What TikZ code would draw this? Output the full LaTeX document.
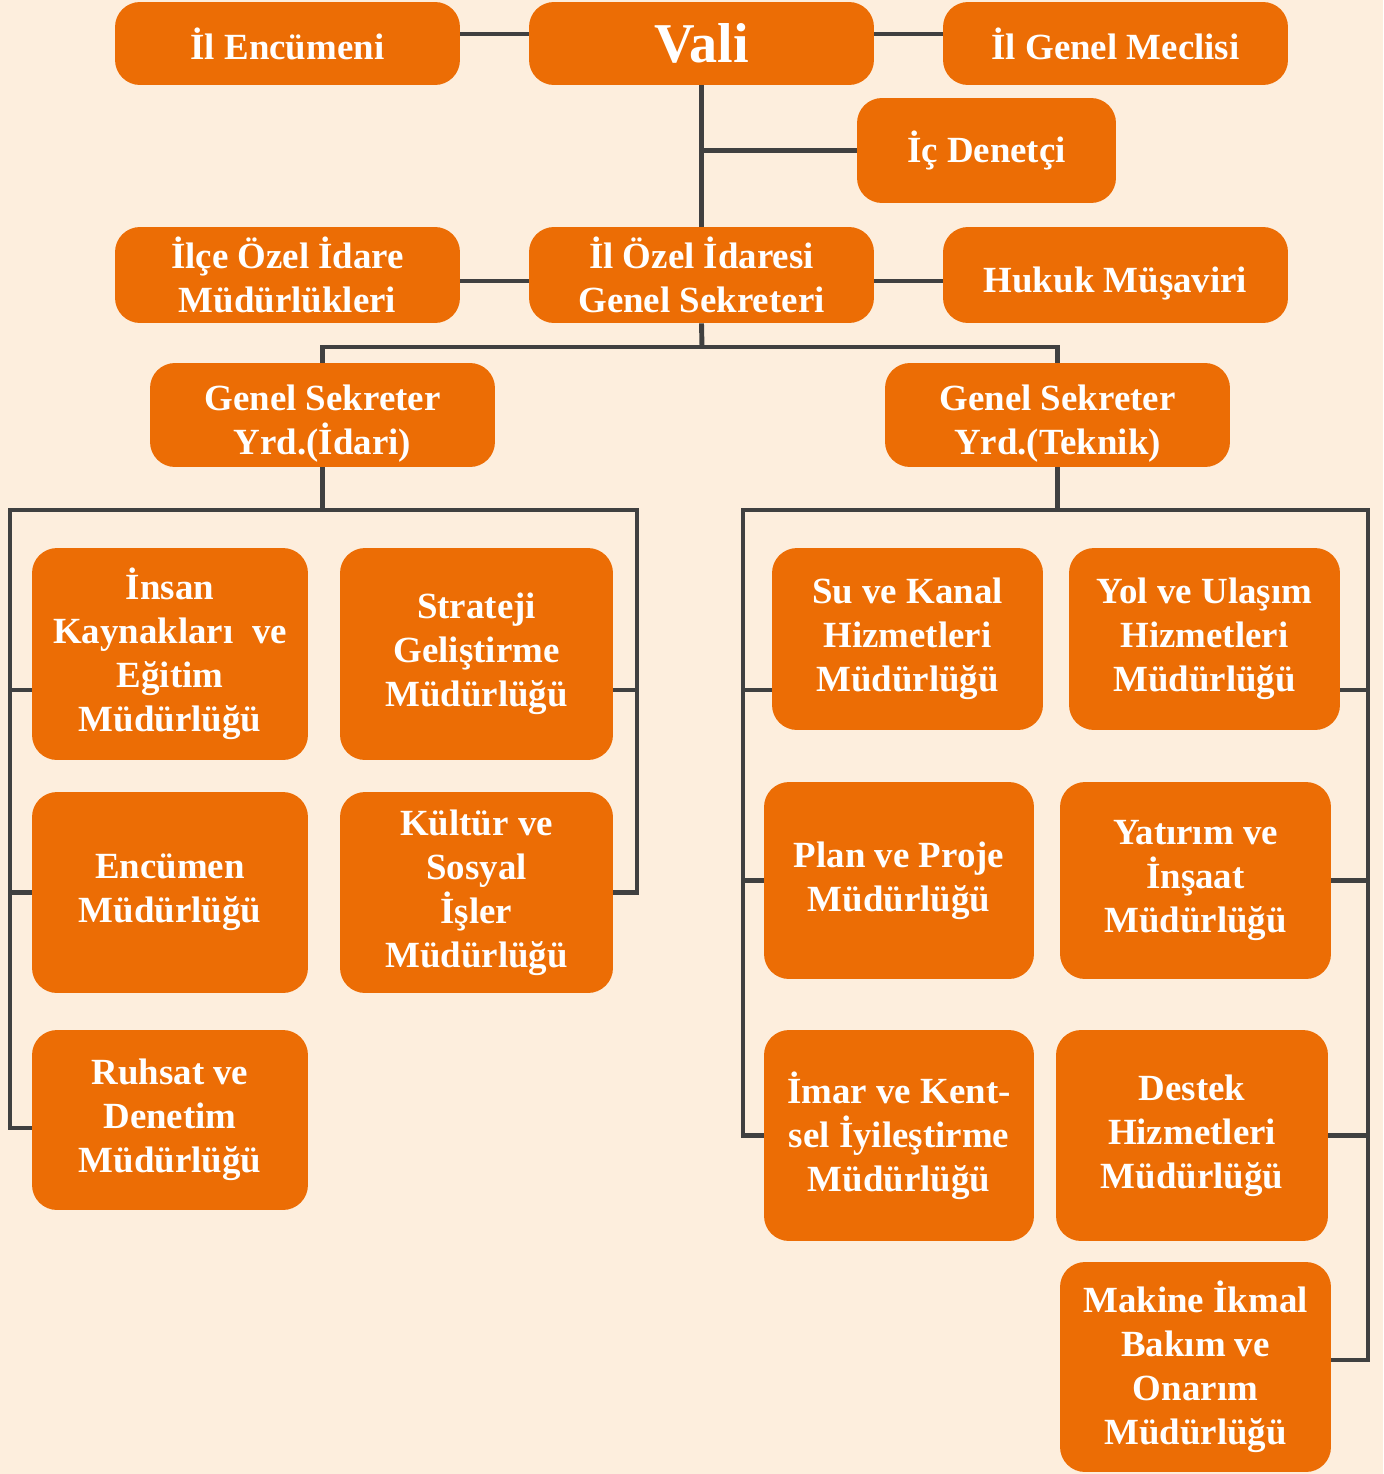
\documentclass[tikz,border=0pt]{standalone}
\usepackage{fontspec}
\setmainfont{Liberation Serif}
\definecolor{boxorange}{HTML}{EC6D05}
\definecolor{paper}{HTML}{FDEEDD}
\definecolor{wirecol}{HTML}{404040}
\tikzset{
  unit/.style={fill=boxorange, text=white, rounded corners=0.5cm, align=center, inner sep=0pt,
    font=\bfseries\fontsize{21}{25}\selectfont},
  wide/.style={unit, minimum width=6.9cm},
  small/.style={unit, minimum width=5.46cm},
  wire/.style={draw=wirecol, line width=2.8pt}
}
\begin{document}
\begin{tikzpicture}[x=0.02cm, y=-0.02cm]
    \fill[paper] (0,0) rectangle (1383,1474);
    \useasboundingbox (0,0) rectangle (1383,1474);

    % Top level
    \node[wide, minimum height=1.66cm] (ilenc) at (287.5,43.5) {İl Encümeni};
    \node[wide, minimum height=1.66cm, font=\bfseries\fontsize{32}{36}\selectfont] (vali) at (701.5,43.5) {Vali};
    \node[wide, minimum height=1.66cm] (meclis) at (1115.5,43.5) {İl Genel Meclisi};
    \node[unit, minimum width=5.18cm, minimum height=2.1cm] (denetci) at (986.5,150.5) {İç Denetçi};

    \node[wide, minimum height=1.92cm] (ilce) at (287.5,275) {İlçe Özel İdare\\Müdürlükleri};
    \node[wide, minimum height=1.92cm] (gensek) at (701.5,275) {İl Özel İdaresi\\Genel Sekreteri};
    \node[wide, minimum height=1.92cm] (hukuk) at (1115.5,275) {\rule{0pt}{24pt}Hukuk Müşaviri};

    \node[wide, minimum height=2.08cm] (idari) at (322.5,415) {\rule{0pt}{24pt}Genel Sekreter\\Yrd.(İdari)};
    \node[wide, minimum height=2.08cm] (teknik) at (1057.5,415) {\rule{0pt}{24pt}Genel Sekreter\\Yrd.(Teknik)};

    % Idari units
    \node[small, minimum width=5.52cm, minimum height=4.24cm] (insan) at (170,654) {İnsan\\Kaynakları\ \ ve\\Eğitim\\Müdürlüğü};
    \node[small, minimum height=4.24cm] (strateji) at (476.5,654) {Strateji\\Geliştirme\\Müdürlüğü};
    \node[small, minimum width=5.52cm, minimum height=4.02cm] (encumen) at (170,892.5) {Encümen\\Müdürlüğü};
    \node[small, minimum height=4.02cm] (kultur) at (476.5,892.5) {Kültür ve\\Sosyal\\İşler\\Müdürlüğü};
    \node[small, minimum width=5.52cm, minimum height=3.6cm] (ruhsat) at (170,1120) {Ruhsat ve\\Denetim\\Müdürlüğü};

    % Teknik units
    \node[small, minimum width=5.42cm, minimum height=3.64cm] (su) at (907.5,639) {Su ve Kanal\\Hizmetleri\\Müdürlüğü};
    \node[small, minimum width=5.42cm, minimum height=3.64cm] (yol) at (1204.5,639) {Yol ve Ulaşım\\Hizmetleri\\Müdürlüğü};
    \node[small, minimum width=5.4cm, minimum height=3.94cm] (plan) at (899,880.5) {Plan ve Proje\\Müdürlüğü};
    \node[small, minimum width=5.42cm, minimum height=3.94cm] (yatirim) at (1195.5,880.5) {Yatırım ve\\İnşaat\\Müdürlüğü};
    \node[small, minimum width=5.4cm, minimum height=4.22cm] (imar) at (899,1135.5) {İmar ve Kent-\\sel İyileştirme\\Müdürlüğü};
    \node[small, minimum width=5.44cm, minimum height=4.22cm] (destek) at (1192,1135.5) {Destek\\Hizmetleri\\Müdürlüğü};
    \node[small, minimum width=5.42cm, minimum height=4.2cm] (makine) at (1195.5,1367) {Makine İkmal\\Bakım ve\\Onarım\\Müdürlüğü};

    % Rail points
    \coordinate (topline) at (0,34); \coordinate (midline) at (0,281);
    \coordinate (bus) at (702,347);
    \coordinate (lrail) at (10,510); \coordinate (rrail) at (637,510);
    \coordinate (tlrail) at (743,510); \coordinate (trrail) at (1368,510);
    \coordinate (rowA) at (0,690); \coordinate (rowC) at (0,1128); \coordinate (rowM) at (0,1360);

    % Top wires
    \draw[wire] (ilenc.east |- topline) -- (vali.west |- topline);
    \draw[wire] (vali.east |- topline) -- (meclis.west |- topline);
    \draw[wire] (vali.south) -- (gensek.north);
    \draw[wire] (vali.south |- denetci.west) -- (denetci.west);
    \draw[wire] (ilce.east |- midline) -- (gensek.west |- midline);
    \draw[wire] (gensek.east |- midline) -- (hukuk.west |- midline);
    \draw[wire] (gensek.south) -- (bus);
    \draw[wire] (idari.north) -- (idari.north |- bus) -- (teknik.north |- bus) -- (teknik.north);

    % Idari bracket
    \draw[wire] (idari.south) -- (idari.south |- lrail);
    \draw[wire] (ruhsat.west |- rowC) -| (lrail) -- (rrail) |- (kultur.east);
    \draw[wire] (lrail |- rowA) -- (insan.west |- rowA);
    \draw[wire] (rrail |- rowA) -- (strateji.east |- rowA);
    \draw[wire] (lrail |- encumen.west) -- (encumen.west);

    % Teknik bracket
    \draw[wire] (teknik.south) -- (teknik.south |- tlrail);
    \draw[wire] (imar.west) -| (tlrail) -- (trrail) |- (makine.east |- rowM);
    \draw[wire] (tlrail |- rowA) -- (su.west |- rowA);
    \draw[wire] (trrail |- rowA) -- (yol.east |- rowA);
    \draw[wire] (tlrail |- plan.west) -- (plan.west);
    \draw[wire] (trrail |- yatirim.east) -- (yatirim.east);
    \draw[wire] (trrail |- destek.east) -- (destek.east);
\end{tikzpicture}
\end{document}
